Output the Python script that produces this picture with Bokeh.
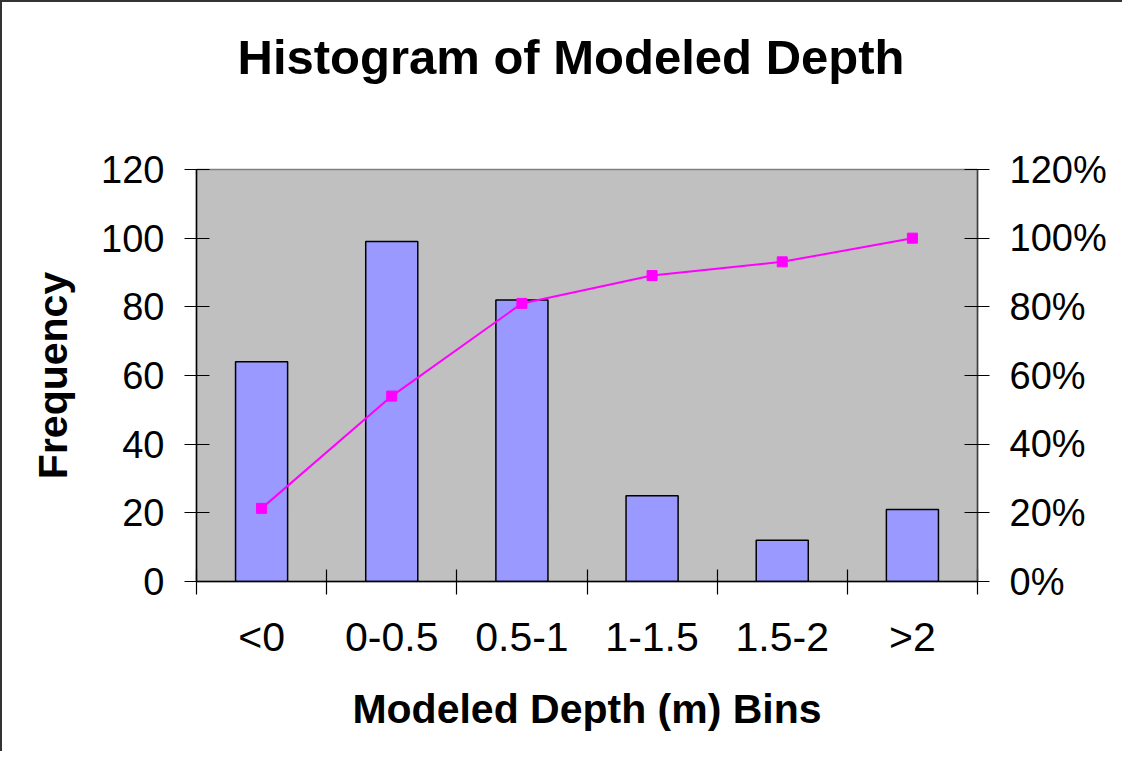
from bokeh.plotting import figure
from bokeh.models import (Range1d, LinearAxis, FixedTicker, NumeralTickFormatter,
                          ColumnDataSource)
from bokeh.embed import file_html
from bokeh.resources import INLINE

title_text = "Histogram of Modeled Depth"
bins = ["<0", "0-0.5", "0.5-1", "1-1.5", "1.5-2", ">2"]
frequency = [64, 99, 82, 25, 12, 21]
cumulative = [0.213, 0.54, 0.81, 0.891, 0.931, 1.0]
left_ticks = [0, 20, 40, 60, 80, 100, 120]
right_ticks = [0, 0.2, 0.4, 0.6, 0.8, 1.0, 1.2]

centers = [i + 0.5 for i in range(len(bins))]
boundaries = list(range(len(bins) + 1))

src = ColumnDataSource(dict(x=centers, freq=frequency, cum=cumulative))

FONT = "Liberation Sans"

p = figure(frame_width=781, frame_height=412,
           min_border_left=194, min_border_right=145,
           min_border_top=167, min_border_bottom=170,
           x_range=Range1d(0, len(bins)), y_range=Range1d(0, left_ticks[-1]),
           output_backend="svg", toolbar_location=None, title=title_text)
p.styles = {"border-top": "2px solid #333333", "border-left": "2px solid #333333"}

p.background_fill_color = "#C0C0C0"
p.border_fill_color = "white"
p.outline_line_color = "#808080"
p.outline_line_width = 1.5
p.xgrid.visible = False
p.ygrid.visible = False

# invisible spacer between the frame and the title (one hidden tick, no label)
spacer = LinearAxis(ticker=FixedTicker(ticks=[boundaries[0]]), axis_line_color=None,
                    major_tick_line_color=None, minor_tick_line_color=None,
                    major_tick_in=0, major_tick_out=76,
                    major_label_overrides={boundaries[0]: ""},
                    major_label_text_font_size="0px", major_label_standoff=0)
p.add_layout(spacer, "above")

p.title.text_font = FONT
p.title.text_font_size = "49px"
p.title.text_font_style = "bold"
p.title.align = "left"
p.title.offset = 41
p.title.vertical_align = "bottom"
p.title.standoff = 20
p.title.text_color = "black"

p.extra_y_ranges = {"pct": Range1d(0, right_ticks[-1])}

p.vbar(x="x", top="freq", width=0.4, source=src, fill_color="#9999FF",
       line_color="black", line_width=1.5)
p.line(x="x", y="cum", source=src, y_range_name="pct", line_color="#FF00FF", line_width=2)
p.scatter(x="x", y="cum", source=src, y_range_name="pct", marker="square", size=10,
          fill_color="#FF00FF", line_color="#FF00FF")

# x axis
xa = p.below[0]
xa.ticker = FixedTicker(ticks=centers, minor_ticks=boundaries)
xa.major_label_overrides = {c: b for c, b in zip(centers, bins)}
xa.major_tick_in = 0
xa.major_tick_out = 0
xa.minor_tick_in = 12
xa.minor_tick_out = 13
xa.minor_tick_line_color = "black"
xa.minor_tick_line_width = 1.2
xa.axis_line_color = "black"
xa.axis_line_width = 1.5
xa.major_label_standoff = 19
xa.major_label_text_font = FONT
xa.major_label_text_font_size = "41px"
xa.major_label_text_color = "black"
xa.axis_label = "Modeled Depth (m) Bins"
xa.axis_label_text_font = FONT
xa.axis_label_text_font_size = "41px"
xa.axis_label_text_font_style = "bold"
xa.axis_label_text_color = "black"
xa.axis_label_standoff = 23

# left y axis
ya = p.left[0]
ya.ticker = FixedTicker(ticks=left_ticks)
ya.minor_tick_line_color = None
ya.major_tick_in = 13
ya.major_tick_out = 12
ya.major_tick_line_color = "black"
ya.major_tick_line_width = 1.2
ya.axis_line_color = "black"
ya.axis_line_width = 1.5
ya.major_label_standoff = 20
ya.major_label_text_font = FONT
ya.major_label_text_font_size = "38px"
ya.major_label_text_color = "black"
ya.axis_label = "Frequency"
ya.axis_label_text_font = FONT
ya.axis_label_text_font_size = "41px"
ya.axis_label_text_font_style = "bold"
ya.axis_label_text_color = "black"
ya.axis_label_standoff = 22

# right y axis
ra = LinearAxis(y_range_name="pct", ticker=FixedTicker(ticks=right_ticks),
                formatter=NumeralTickFormatter(format="0%"))
ra.minor_tick_line_color = None
ra.major_tick_in = 13
ra.major_tick_out = 12
ra.major_tick_line_color = "black"
ra.major_tick_line_width = 1.2
ra.axis_line_color = "#404040"
ra.axis_line_width = 1.5
ra.major_label_standoff = 20
ra.major_label_text_font = FONT
ra.major_label_text_font_size = "38px"
ra.major_label_text_color = "black"
p.add_layout(ra, "right")

open("out.html", "w").write(file_html(p, INLINE))
